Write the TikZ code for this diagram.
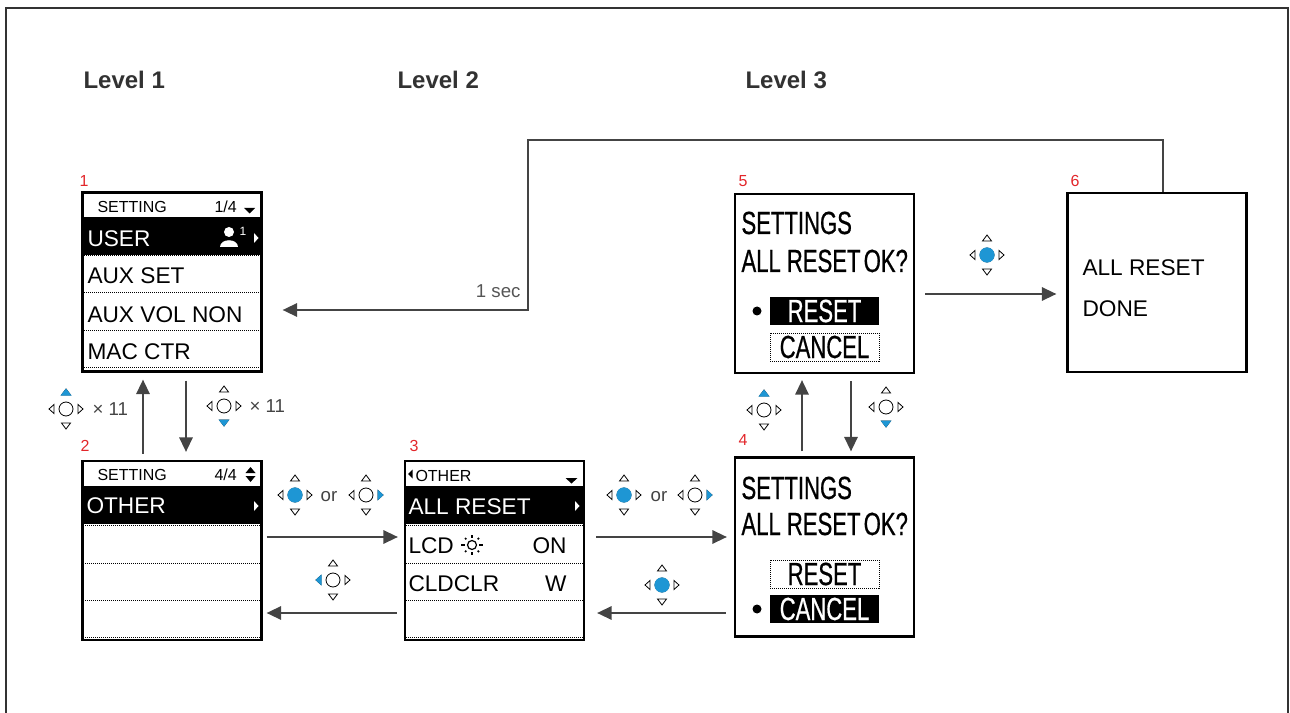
\documentclass[tikz,border=0pt]{standalone}
\usepackage{fontspec}
\setmainfont{Liberation Sans}
\newfontfamily\lcdfont[FakeStretch=0.69,FakeBold=0.6]{Liberation Sans}
\usetikzlibrary{arrows.meta,calc}

\definecolor{padblue}{RGB}{30,150,212}
\definecolor{flowgray}{RGB}{68,68,68}
\definecolor{stepred}{RGB}{226,38,42}
\definecolor{framegray}{RGB}{50,50,50}

\tikzset{every picture/.style={line width=0.75pt}}
\tikzset{
  screen/.style={draw=black, line width=1.6pt, minimum width=134.25pt, minimum height=134.25pt, inner sep=0pt},
  flow/.style={draw=flowgray, line width=1.7pt, -{Triangle[length=11pt,width=10pt]}},
  headtxt/.style={anchor=base west, inner sep=0pt, font=\fontsize{12}{14}\selectfont},
  rowtxt/.style={anchor=base west, inner sep=0pt, font=\fontsize{17}{20}\selectfont},
  lcdtxt/.style={inner sep=0pt, font=\lcdfont\fontsize{24}{26}\selectfont},
  steplabel/.style={inner sep=0pt, text=stepred, font=\fontsize{12}{14}\selectfont},
  leveltxt/.style={anchor=base west, inner sep=0pt, text=framegray, font=\fontsize{18}{20}\selectfont\bfseries},
  hinttxt/.style={inner sep=0pt, text=flowgray, font=\fontsize{14}{16}\selectfont},
  rowline/.style={draw=black, line width=0.75pt, dash pattern=on 0.75pt off 0.75pt},
  padline/.style={draw=black, line width=0.6pt, fill=white},
  % pics are drawn unflipped: +y is up inside them
  pics/dpad/.style={code={
    \draw[padline] (0,0) circle[radius=7];
    \draw[padline] (-4.5,14) -- (4.5,14) -- (0,20) -- cycle;
    \draw[padline] (-4.5,-14) -- (4.5,-14) -- (0,-20) -- cycle;
    \draw[padline] (-12,-4.5) -- (-12,4.5) -- (-17,0) -- cycle;
    \draw[padline] (12,-4.5) -- (12,4.5) -- (17,0) -- cycle;
  }},
  pics/keyok/.style={code={\fill[padblue] (0,0) circle[radius=7.6];}},
  pics/keyup/.style={code={\fill[padblue] (-5.5,13.5) -- (5.5,13.5) -- (0,20.5) -- cycle;}},
  pics/keydown/.style={code={\fill[padblue] (-5.5,-13.5) -- (5.5,-13.5) -- (0,-20.5) -- cycle;}},
  pics/keyleft/.style={code={\fill[padblue] (-11.5,-5.5) -- (-11.5,5.5) -- (-17.5,0) -- cycle;}},
  pics/keyright/.style={code={\fill[padblue] (11.5,-5.5) -- (11.5,5.5) -- (17.5,0) -- cycle;}},
}

\begin{document}
\begin{tikzpicture}[x=0.75pt,y=0.75pt,yscale=-1,xscale=1]
\useasboundingbox (0,0) rectangle (1290,713);

%Shape: Frame
\draw[draw=framegray, line width=1.8pt] (6,713) -- (6,8) -- (1288,8) -- (1288,713);

% Text Node
\node[leveltxt] (lvl1) at (83,89) {Level 1};
% Text Node
\node[leveltxt] (lvl2) at (397,89) {Level 2};
% Text Node
\node[leveltxt] (lvl3) at (745,89) {Level 3};

%Screen 1
\fill (83,217) rectangle (261,255);
\draw[rowline] (84,256) -- (260,256);
\draw[rowline] (84,293) -- (260,293);
\draw[rowline] (84,330) -- (260,330);
\draw[rowline] (84,367) -- (260,367);
\fill (244,208) -- (255,208) -- (249.5,213.5) -- cycle;
\fill[white] (229,232) circle[radius=5];
\fill[white] (220,247) .. controls (220,238) and (238,238) .. (238,247) -- cycle;
\fill[white] (254,233) -- (258.5,238) -- (254,243) -- cycle;
% Text Node
\node[headtxt] (s1head) at (97,212.5) {SETTING};
\node[headtxt] (s1page) at (214,212.5) {1/4};
\node[inner sep=0pt, text=white, font=\fontsize{9}{10}\selectfont] (s1one) at (243,231) {1};
\node[rowtxt, text=white] (s1user) at (87,247) {USER};
\node[rowtxt] (s1aux) at (87,284) {AUX SET};
\node[rowtxt] (s1vol) at (87,322) {AUX VOL NON};
\node[rowtxt] (s1mac) at (87,359) {MAC CTR};
\node[screen] (s1) at (172,282) {};
\node[steplabel] (n1) at (84,181) {1};

%Screen 2
\fill (82,486) rectangle (262,524);
\draw[rowline] (83,525) -- (261,525);
\draw[rowline] (83,563) -- (261,563);
\draw[rowline] (83,600) -- (261,600);
\draw[rowline] (83,637) -- (261,637);
\fill (245.5,473) -- (255.5,473) -- (250.5,467) -- cycle;
\fill (245.5,476) -- (255.5,476) -- (250.5,482) -- cycle;
\fill[white] (254,501) -- (258.5,506) -- (254,511) -- cycle;
% Text Node
\node[headtxt] (s2head) at (97,480) {SETTING};
\node[headtxt] (s2page) at (214,480) {4/4};
\node[rowtxt, text=white] (s2other) at (86,513) {OTHER};
\node[screen] (s2) at (172,550.5) {};
\node[steplabel] (n2) at (85,446) {2};

%Screen 3
\fill (405,486) rectangle (584,524);
\draw[rowline] (406,525) -- (583,525);
\draw[rowline] (406,563) -- (583,563);
\draw[rowline] (406,600) -- (583,600);
\draw[rowline] (406,637) -- (583,637);
\fill (412.5,469.5) -- (412.5,478.5) -- (408,474) -- cycle;
\fill (565.5,478) -- (577.5,478) -- (571.5,483.5) -- cycle;
\fill[white] (575,501) -- (579.5,506) -- (575,511) -- cycle;
%Shape: Sun
\draw[line width=0.9pt] (472,545) circle[radius=4.5];
\draw[line width=1.1pt] (461,545) -- (465,545) (479,545) -- (483,545) (472,535) -- (472,538) (472,552) -- (472,555);
\draw[line width=1.1pt] (465,538) -- (466.3,539.3) (479,538) -- (477.7,539.3) (465,552) -- (466.3,550.7) (479,552) -- (477.7,550.7);
% Text Node
\node[headtxt] (s3head) at (415,481) {OTHER};
\node[rowtxt, text=white] (s3reset) at (408,514) {ALL RESET};
\node[rowtxt] (s3lcd) at (408,553) {LCD};
\node[rowtxt, anchor=base east] (s3on) at (567,553) {ON};
\node[rowtxt] (s3cld) at (408,591) {CLDCLR};
\node[rowtxt, anchor=base east] (s3w) at (567,591) {W};
\node[screen] (s3) at (494.5,550.5) {};
\node[steplabel] (n3) at (414,446) {3};

%Screen 4
\draw[rowline] (770,560) rectangle (879,588);
\fill (770,595) rectangle (879,623);
\fill (757,609) circle[radius=4.5];
% Text Node
\node[lcdtxt, anchor=base west] (s4title) at (741,499) {SETTINGS};
\node[lcdtxt, anchor=base west] (s4ask) at (741,535) {ALL RESET\hspace{0.1em}OK?};
\node[lcdtxt] (s4reset) at (824.5,574) {RESET};
\node[lcdtxt, text=white] (s4cancel) at (824.5,609) {CANCEL};
\node[screen] (s4) at (824.5,547) {};
\node[steplabel] (n4) at (743,440) {4};

%Screen 5
\fill (770,297) rectangle (879,325);
\draw[rowline] (770,333) rectangle (879,361);
\fill (757,311) circle[radius=4.5];
% Text Node
\node[lcdtxt, anchor=base west] (s5title) at (741,234) {SETTINGS};
\node[lcdtxt, anchor=base west] (s5ask) at (741,272) {ALL RESET\hspace{0.1em}OK?};
\node[lcdtxt, text=white] (s5reset) at (824.5,311) {RESET};
\node[lcdtxt] (s5cancel) at (824.5,347) {CANCEL};
\node[screen] (s5) at (824.5,283.5) {};
\node[steplabel] (n5) at (743,181) {5};

%Screen 6
% Text Node
\node[rowtxt] (s6reset) at (1082,276) {ALL RESET};
\node[rowtxt] (s6done) at (1082,316) {DONE};
\node[screen] (s6) at (1157,282.5) {};
\node[steplabel] (n6) at (1075,181) {6};

%Straight Lines
\draw[flow] ($(s1.south)+(14,8)$) -- ($(s2.north)+(14,-8)$);
\draw[flow] ($(s2.north)+(-29,-6)$) -- ($(s1.south)+(-29,7)$);
\draw[flow] ($(s2.east)+(4,-13.5)$) -- ($(s3.west)+(-6,-13.5)$);
\draw[flow] ($(s3.west)+(-7,62.5)$) -- ($(s2.east)+(4,62.5)$);
\draw[flow] ($(s3.east)+(11,-13.5)$) -- ($(s4.west)+(-7,-10)$);
\draw[flow] ($(s4.west)+(-8,66)$) -- ($(s3.east)+(12,62.5)$);
\draw[flow] ($(s4.north)+(-22.5,-5)$) -- ($(s5.south)+(-22.5,6)$);
\draw[flow] ($(s5.south)+(26.5,7)$) -- ($(s4.north)+(26.5,-5)$);
\draw[flow] ($(s5.east)+(10,10.5)$) -- ($(s6.west)+(-10,11.5)$);
\coordinate (back) at (528,140);
\draw[flow] ($(s6.north)+(6,0)$) |- (back) |- ($(s1.east)+(20,28)$);
% Text Node
\node[hinttxt, anchor=base east, text={rgb,255:red,85;green,85;blue,85}] (sec) at (521,298) {1 sec};

%Keys
\pic (padA) at (224,406) {dpad}; \pic at (224,406) {keydown};
\node[hinttxt, anchor=west] (timesA) at (249,406) {× 11};
\pic (padB) at (66,409) {dpad}; \pic at (66,409) {keyup};
\node[hinttxt, anchor=west] (timesB) at (92,409) {× 11};
\pic (padC) at (295,495) {dpad}; \pic at (295,495) {keyok};
\node[hinttxt] (orC) at (329,497) {or};
\pic (padC2) at (366,495) {dpad}; \pic at (366,495) {keyright};
\pic (padD) at (333,580) {dpad}; \pic at (333,580) {keyleft};
\pic (padE) at (624,495) {dpad}; \pic at (624,495) {keyok};
\node[hinttxt] (orE) at (659,497) {or};
\pic (padE2) at (695,495) {dpad}; \pic at (695,495) {keyright};
\pic (padF) at (662,585) {dpad}; \pic at (662,585) {keyok};
\pic (padG) at (764,410) {dpad}; \pic at (764,410) {keyup};
\pic (padH) at (886,407) {dpad}; \pic at (886,407) {keydown};
\pic (padI) at (987,255) {dpad}; \pic at (987,255) {keyok};

\end{tikzpicture}
\end{document}
